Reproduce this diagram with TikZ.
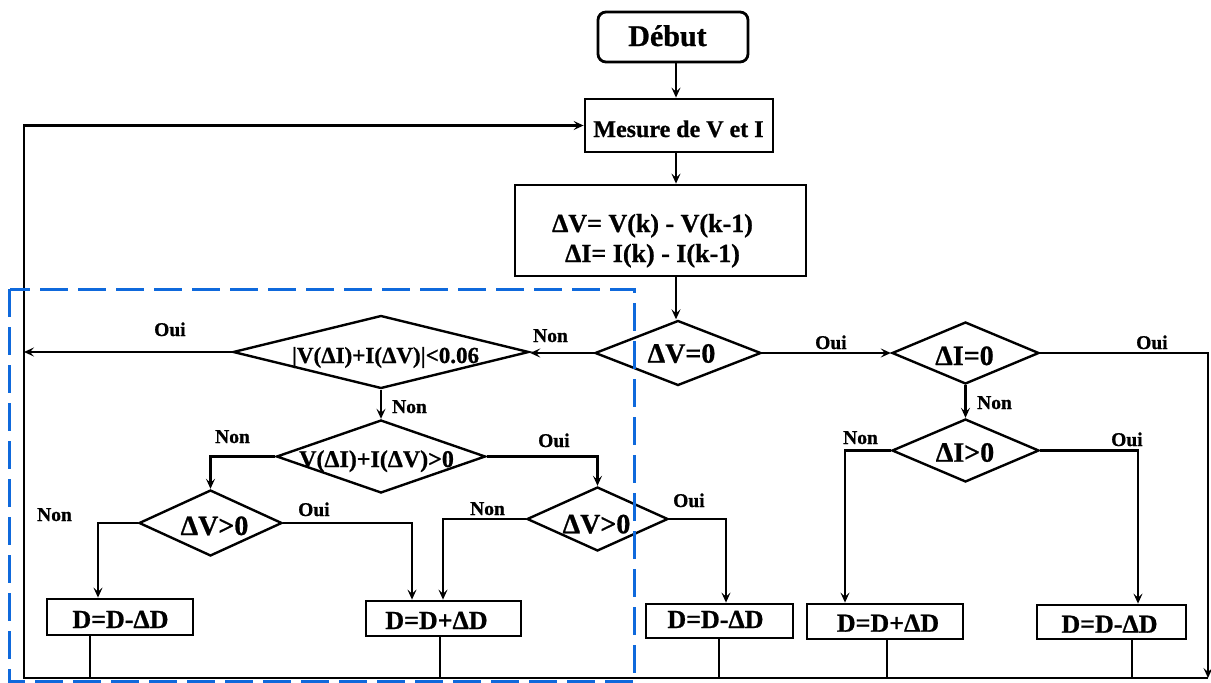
\documentclass[tikz,border=0pt]{standalone}
\usepackage{fontspec}
\setmainfont{Liberation Serif}[BoldFeatures={FakeBold=0.8}]
\usetikzlibrary{arrows.meta,shapes.geometric}
\definecolor{dashblue}{RGB}{15,105,220}
\begin{document}
\begin{tikzpicture}[x=1pt,y=-1pt,
  conn/.style={line width=2.2pt, line join=miter},
  arr/.style={conn, -{Stealth[length=10pt,width=9pt,inset=4pt]}},
  boxn/.style={draw, rectangle, line width=2.8pt, inner sep=0pt},
  dia/.style={draw, diamond, line width=2.4pt, inner sep=0pt},
  lbl/.style={font=\bfseries\fontsize{19.5}{22}\selectfont, anchor=base west, inner sep=0pt},
  txt/.style={anchor=base, inner sep=0pt},
  fbig/.style={font=\bfseries\fontsize{28}{32}\selectfont},
  fbox/.style={font=\bfseries\fontsize{26}{30}\selectfont},
]
\useasboundingbox (0,0) rectangle (1211,683);
\fill[white] (0,0) rectangle (1211,683);

% ---- top boxes
\node[boxn, rounded corners=8pt, minimum width=150pt, minimum height=50pt] (deb) at (673,37) {};
\node[txt, font=\bfseries\fontsize{30}{36}\selectfont] (debt) at (667.5,46) {Début};
\node[boxn, minimum width=188pt, minimum height=53pt] (mes) at (679,125.5) {};
\node[txt, font=\bfseries\fontsize{24}{28}\selectfont] (mest) at (678.5,137) {Mesure de V et I};
\node[boxn, minimum width=291pt, minimum height=91pt] (dvb) at (660.5,230.5) {};
\node[txt, fbox] (dvb1) at (652.5,232) {ΔV= V(k) - V(k-1)};
\node[txt, fbox] (dvb2) at (652.5,262) {ΔI= I(k) - I(k-1)};

% ---- diamonds
\node[dia, minimum width=166pt, minimum height=65pt] (d0) at (678,353) {};
\node[txt, fbig] (d0t) at (681.5,362.7) {ΔV=0};
\node[dia, minimum width=296pt, minimum height=73pt] (d1) at (381,352) {};
\node[txt, font=\bfseries\fontsize{23}{26}\selectfont] (d1t) at (385.5,363) {|V(ΔI)+I(ΔV)|<0.06};
\node[dia, minimum width=209pt, minimum height=73pt] (d2) at (381,456.5) {};
\node[txt, font=\bfseries\fontsize{24}{27}\selectfont] (d2t) at (376.5,467) {V(ΔI)+I(ΔV)>0};
\node[dia, minimum width=143pt, minimum height=66pt] (d3) at (210.5,523) {};
\node[txt, fbig] (d3t) at (214.5,535) {ΔV>0};
\node[dia, minimum width=141pt, minimum height=64pt] (d4) at (597.5,519) {};
\node[txt, fbig] (d4t) at (596.5,533.3) {ΔV>0};
\node[dia, minimum width=147pt, minimum height=62pt] (dI0) at (965.5,353) {};
\node[txt, fbig] (dI0t) at (964.5,365) {ΔI=0};
\node[dia, minimum width=147pt, minimum height=63pt] (dIp) at (965.5,450.5) {};
\node[txt, fbig] (dIpt) at (965,461.7) {ΔI>0};

% ---- result boxes
\node[boxn, minimum width=146pt, minimum height=36pt] (L1) at (120,617) {};
\node[txt, fbox] (L1t) at (120.5,628) {D=D-ΔD};
\node[boxn, minimum width=155pt, minimum height=35pt] (L2) at (443.5,618.5) {};
\node[txt, fbox] (L2t) at (436.5,629) {D=D+ΔD};
\node[boxn, minimum width=147pt, minimum height=34pt] (M1) at (719.5,621) {};
\node[txt, fbox] (M1t) at (715.5,628) {D=D-ΔD};
\node[boxn, minimum width=156pt, minimum height=35pt] (M2) at (885,621.5) {};
\node[txt, fbox] (M2t) at (888,631.7) {D=D+ΔD};
\node[boxn, minimum width=149pt, minimum height=34pt] (M3) at (1111.5,622) {};
\node[txt, fbox] (M3t) at (1109.5,632.7) {D=D-ΔD};

% ---- helper coordinates
\coordinate (ax) at (676,0);
\coordinate (BL) at (24,678);
\coordinate (BR) at (1208,678);
\coordinate (c3l) at (98,0);
\coordinate (c3r) at (412,0);
\coordinate (c4l) at (443,0);
\coordinate (c4r) at (726,0);
\coordinate (cIl) at (845,0);
\coordinate (cIr) at (1138,0);
\coordinate (b1) at (90,0);
\coordinate (b2) at (440,0);
\coordinate (b3) at (719,0);
\coordinate (b4) at (887,0);
\coordinate (b5) at (1132,0);

% ---- connectors
\draw[arr] (ax |- deb.south) -- (ax |- mes.north);
\draw[arr] (ax |- mes.south) -- (ax |- dvb.north);
\draw[arr] (ax |- dvb.south) -- (ax |- d0.north);
\draw[arr] (d0.west) -- (d0.west -| d1.east);
\draw[arr] (d1.west) -- (BL |- d1.west);
\draw[arr] (d1.south) -- (d2.north);
\draw[arr] (d2.west) -- (d3.north |- d2.west) -- (d3.north);
\draw[arr] (d2.east) -- (d4.north |- d2.east) -- (d4.north);
\draw[arr] (d3.west) -- (c3l |- d3.west) -- (c3l |- L1.north);
\draw[arr] (d3.east) -- (c3r |- d3.east) -- (c3r |- L2.north);
\draw[arr] (d4.west) -- (c4l |- d4.west) -- (c4l |- L2.north);
\draw[arr] (d4.east) -- (c4r |- d4.east) -- (c4r |- M1.north);
\draw[arr] (d0.east) -- (d0.east -| dI0.west);
\draw[arr] (dI0.south) -- (dIp.north);
\draw[arr] (dIp.west) -- (cIl |- dIp.west) -- (cIl |- M2.north);
\draw[arr] (dIp.east) -- (cIr |- dIp.east) -- (cIr |- M3.north);
\draw[arr] (dI0.east) -- (BR |- dI0.east) -- (BR);
\draw[arr] (BR) -- (BL) -- (BL |- mes.west) -- (mes.west);
\draw[conn] (b1 |- L1.south) -- (b1 |- BL);
\draw[conn] (b2 |- L2.south) -- (b2 |- BL);
\draw[conn] (b3 |- M1.south) -- (b3 |- BL);
\draw[conn] (b4 |- M2.south) -- (b4 |- BL);
\draw[conn] (b5 |- M3.south) -- (b5 |- BL);

% ---- labels
\node[lbl] (l1) at (533,342) {Non};
\node[lbl] (l2) at (154,336) {Oui};
\node[lbl] (l3) at (392,413) {Non};
\node[lbl] (l4) at (215,443) {Non};
\node[lbl] (l5) at (538,447) {Oui};
\node[lbl] (l6) at (37,521) {Non};
\node[lbl] (l7) at (298,516) {Oui};
\node[lbl] (l8) at (470,515) {Non};
\node[lbl] (l9) at (673,507) {Oui};
\node[lbl] (l10) at (815,349) {Oui};
\node[lbl] (l11) at (1136,349) {Oui};
\node[lbl] (l12) at (977,409) {Non};
\node[lbl] (l13) at (843,444) {Non};
\node[lbl] (l14) at (1111,446) {Oui};

% ---- blue dashed frame
\draw[dashblue, line width=3pt, dash pattern=on 28pt off 10pt] (9.5,289) rectangle (634,681.5);
\end{tikzpicture}
\end{document}
